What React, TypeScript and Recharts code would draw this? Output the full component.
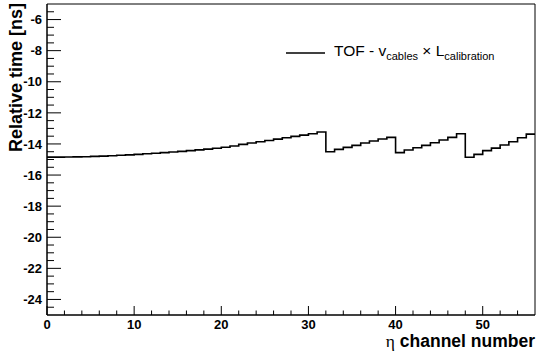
import React from 'react';
import { LineChart, Line, XAxis, YAxis, ReferenceArea } from 'recharts';

// relative time per eta channel (ns), one value per bin
const relativeTime = [
  -14.85, -14.85, -14.84, -14.83, -14.82, -14.8, -14.78, -14.76, -14.73, -14.7,
  -14.67, -14.63, -14.6, -14.56, -14.52, -14.48, -14.43, -14.38, -14.33, -14.28,
  -14.21, -14.13, -14.03, -13.94, -13.86, -13.78, -13.69, -13.6, -13.51, -13.43,
  -13.34, -13.23,
  -14.5, -14.35, -14.22, -14.09, -13.94, -13.81, -13.68, -13.58,
  -14.56, -14.39, -14.24, -14.09, -13.92, -13.75, -13.58, -13.34,
  -14.86, -14.67, -14.43, -14.27, -14.07, -13.86, -13.6, -13.37,
];

const xMajor = [0, 10, 20, 30, 40, 50];
const xTicks = [0, 2, 4, 6, 8, 10, 12, 14, 16, 18, 20, 22, 24, 26, 28, 30, 32, 34, 36, 38, 40, 42, 44, 46, 48, 50, 52, 54];
const yMajor = [-24, -22, -20, -18, -16, -14, -12, -10, -8, -6];
const yTicks = [
  -24.5, -24, -23.5, -23, -22.5, -22, -21.5, -21, -20.5, -20, -19.5, -19, -18.5, -18,
  -17.5, -17, -16.5, -16, -15.5, -15, -14.5, -14, -13.5, -13, -12.5, -12, -11.5, -11,
  -10.5, -10, -9.5, -9, -8.5, -8, -7.5, -7, -6.5, -6, -5.5,
];

// step histogram: each bin drawn from its left edge, plus closing point at 56
const data = relativeTime.map((v, i) => ({ bin: i, t: v }));
data.push({ bin: relativeTime.length, t: relativeTime[relativeTime.length - 1] });

const FONT = '"Liberation Sans", Arial, Helvetica, sans-serif';

const YTick = (props: any) => {
  const { x, y, payload } = props;
  const major = yMajor.includes(payload.value);
  return (
    <g>
      <line x1={x} x2={x + (major ? 14 : 7)} y1={y} y2={y} stroke="#000" strokeWidth={1} />
      {major && (
        <text x={x - 5} y={y} dy="0.36em" textAnchor="end" fontSize={13} fontWeight="bold" fontFamily={FONT} fill="#000">
          {payload.value}
        </text>
      )}
    </g>
  );
};

const XTick = (props: any) => {
  const { x, y, payload } = props;
  const major = xMajor.includes(payload.value);
  return (
    <g>
      <line x1={x} x2={x} y1={y} y2={y - (major ? 9 : 4.5)} stroke="#000" strokeWidth={1} />
      {major && (
        <text x={x} y={y + 14} textAnchor="middle" fontSize={13} fontWeight="bold" fontFamily={FONT} fill="#000">
          {payload.value}
        </text>
      )}
    </g>
  );
};

export default function App() {
  return (
    <div style={{ position: 'absolute', left: 0, top: 0, width: 536, height: 353, background: '#fff' }}>
      <LineChart width={536} height={353} data={data} margin={{ top: 4, right: 1, bottom: 0, left: 0 }}>
        <XAxis
          dataKey="bin"
          type="number"
          domain={[0, 56]}
          ticks={xTicks}
          interval={0}
          tick={<XTick />}
          tickSize={0}
          tickMargin={0}
          tickLine={false}
          height={38}
          axisLine={{ stroke: '#000', strokeWidth: 1 }}
        />
        <YAxis
          type="number"
          domain={[-25, -5]}
          ticks={yTicks}
          interval={0}
          tick={<YTick />}
          tickSize={0}
          tickMargin={0}
          tickLine={false}
          width={47}
          axisLine={{ stroke: '#000', strokeWidth: 1 }}
          allowDataOverflow
        />
        <ReferenceArea x1={0} x2={56} y1={-25} y2={-5} fill="none" stroke="#000" strokeWidth={1} />
        <Line
          type="stepAfter"
          dataKey="t"
          stroke="#000"
          strokeWidth={1.6}
          dot={false}
          activeDot={false}
          isAnimationActive={false}
        />
      </LineChart>
      <svg width={536} height={353} style={{ position: 'absolute', left: 0, top: 0, pointerEvents: 'none' }}>
        <text transform="translate(22,3) rotate(-90)" textAnchor="end" fontSize={18} fontWeight="bold" fontFamily={FONT} fill="#000">
          Relative time [ns]
        </text>
        <text x={535} y={347} textAnchor="end" fontSize={17.5} fontWeight="bold" fontFamily={FONT} fill="#000">
          <tspan fontFamily='"Liberation Serif", serif' fontWeight="normal">η</tspan> channel number
        </text>
        <line x1={286} x2={325} y1={53} y2={53} stroke="#000" strokeWidth={1.5} />
        <text x={334} y={56} fontSize={15.5} fontFamily={FONT} fill="#000">
          TOF - v
          <tspan dy={4} fontSize={11}>cables</tspan>
          <tspan dy={-4}> × L</tspan>
          <tspan dy={4} fontSize={11}>calibration</tspan>
        </text>
      </svg>
    </div>
  );
}
